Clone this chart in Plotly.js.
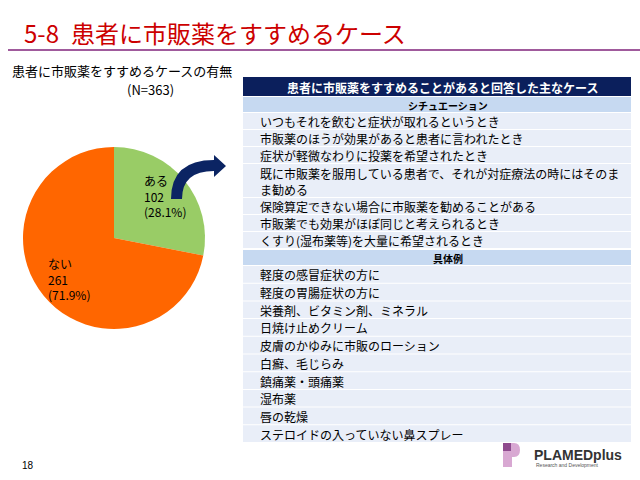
<!DOCTYPE html>
<html><head><meta charset="utf-8">
<script src="https://cdn.plot.ly/plotly-3.0.1.min.js"></script>
<style>html,body{margin:0;padding:0;background:#fff}</style>
</head><body><div id="chart" style="width:640px;height:480px"></div>
<script>
// ---- data ----
const pieLabels = ['ある', 'ない'];
const pieValues = [102, 261];
const pieColors = ['#99CC66', '#FF6600'];
const sampleSize = 363;
const pageNumber = '5-8';
const pageTitle = '患者に市販薬をすすめるケース';
const chartTitle = '患者に市販薬をすすめるケースの有無';
const tableTitle = '患者に市販薬をすすめることがあると回答した主なケース';
const situationHeader = 'シチュエーション';
const situations = [
  'いつもそれを飲むと症状が取れるというとき',
  '市販薬のほうが効果があると患者に言われたとき',
  '症状が軽微なわりに投薬を希望されたとき',
  '既に市販薬を服用している患者で、それが対症療法の時にはそのま<br>ま勧める',
  '保険算定できない場合に市販薬を勧めることがある',
  '市販薬でも効果がほぼ同じと考えられるとき',
  'くすり(湿布薬等)を大量に希望されるとき'
];
const exampleHeader = '具体例';
const examples = [
  '軽度の感冒症状の方に',
  '軽度の胃腸症状の方に',
  '栄養剤、ビタミン剤、ミネラル',
  '日焼け止めクリーム',
  '皮膚のかゆみに市販のローション',
  '白癬、毛じらみ',
  '鎮痛薬・頭痛薬',
  '湿布薬',
  '唇の乾燥',
  'ステロイドの入っていない鼻スプレー'
];

// ---- helpers (pixel -> paper) ----
const W = 640, H = 480;
const X = px => px / W;
const Y = py => 1 - py / H;
const JP = '"Noto Sans CJK JP", "Noto Sans", sans-serif';

const shapes = [];
const annotations = [];
function rect(x0, y0, x1, y1, color) {
  shapes.push({type: 'rect', xref: 'paper', yref: 'paper', x0: X(x0), x1: X(x1), y0: Y(y1), y1: Y(y0),
    fillcolor: color, line: {width: 0}, layer: 'below'});
}
function text(t, x, y, size, color, opts) {
  annotations.push(Object.assign({text: t, xref: 'paper', yref: 'paper', x: X(x), y: Y(y),
    showarrow: false, xanchor: 'left', yanchor: 'middle', align: 'left',
    font: {family: JP, size: size, color: color}}, opts || {}));
}

// page title + rule
text(pageNumber + '\u2002' + pageTitle, 22, 33, 24, '#CC0000');
shapes.push({type: 'line', xref: 'paper', yref: 'paper', x0: X(8), x1: X(640), y0: Y(50), y1: Y(50),
  line: {color: '#A05A9C', width: 2}});
text(chartTitle, 10, 70, 13, '#000');
text('(N=' + sampleSize + ')', 150, 89, 13, '#000', {xanchor: 'center'});

// pie labels
const total = pieValues.reduce((a, b) => a + b, 0);
const lbl = i => pieLabels[i] + '<br>' + pieValues[i] + '<br>(' + (pieValues[i] / total * 100).toFixed(1) + '%)';
text(lbl(0), 142, 196, 12, '#000');
text(lbl(1), 46, 279, 12, '#000');

// arrow
const P = (x, y) => X(x).toFixed(5) + ',' + Y(y).toFixed(5);
shapes.push({type: 'path', xref: 'paper', yref: 'paper',
  path: 'M' + P(171, 199) + ' Q' + P(171, 160) + ' ' + P(214, 160) + ' L' + P(214, 155) + ' L' + P(226, 166) +
        ' L' + P(214, 177) + ' L' + P(214, 171) + ' Q' + P(182, 171) + ' ' + P(182, 199) + ' Z',
  fillcolor: '#0B2463', line: {width: 0}});

// table
const TX0 = 243, TX1 = 631;
rect(TX0, 77, TX1, 96, '#0B1F5C');
text('<b>' + tableTitle + '</b>', 442, 87, 12, '#fff', {xanchor: 'center', align: 'center'});
let y = 97;
function section(t) {
  rect(TX0, y, TX1, y + 15, '#C6D9F1');
  text('<b>' + t + '</b>', 448, y + 8, 10, '#000', {xanchor: 'center', align: 'center'});
  y += 16;
}
function rows(list, unit) {
  list.forEach(t => {
    const n = t.split('<br>').length;
    const h = unit * n - 1;
    rect(TX0, y, TX1, y + h, '#E9EEF8');
    text(t, 258, y + h / 2 + 0.5, 12, '#000');
    y += unit * n;
  });
}
section(situationHeader);
rows(situations, 17);
y += 1;
section(exampleHeader);
rows(examples, 17.7);

// logo
rect(503, 443, 512, 467, '#D8A8D2');
shapes.push({type: 'path', xref: 'paper', yref: 'paper',
  path: 'M' + P(512, 443) + ' L' + P(514, 443) + ' Q' + P(520, 443) + ' ' + P(520, 450) + ' Q' + P(520, 457) + ' ' + P(514, 457) +
        ' L' + P(512, 457) + ' Z', fillcolor: '#D8A8D2', line: {width: 0}});
rect(503, 443, 511, 451, '#8E4A8E');
text('<b>PLAMEDplus</b>', 532, 455, 14, '#333', {font: {family: 'Liberation Sans, Arial, sans-serif', size: 14, color: '#333'}});
text('Research and Development', 534, 465, 5, '#555', {font: {family: 'Liberation Sans, Arial, sans-serif', size: 5, color: '#555'}});
text('18', 20, 465, 10, '#000', {font: {family: 'Liberation Sans, Arial, sans-serif', size: 10, color: '#000'}});

const data = [{
  type: 'pie', labels: pieLabels, values: pieValues, sort: false, direction: 'clockwise', rotation: 0,
  marker: {colors: pieColors, line: {width: 0}}, textinfo: 'none', hoverinfo: 'label+value+percent',
  domain: {x: [X(23), X(205)], y: [Y(329), Y(147)]}, showlegend: false
}];
const layout = {
  width: W, height: H, margin: {l: 0, r: 0, t: 0, b: 0},
  paper_bgcolor: '#fff', plot_bgcolor: '#fff', showlegend: false,
  shapes: shapes, annotations: annotations
};
Plotly.newPlot('chart', data, layout, {displayModeBar: false, staticPlot: true});
</script></body></html>
